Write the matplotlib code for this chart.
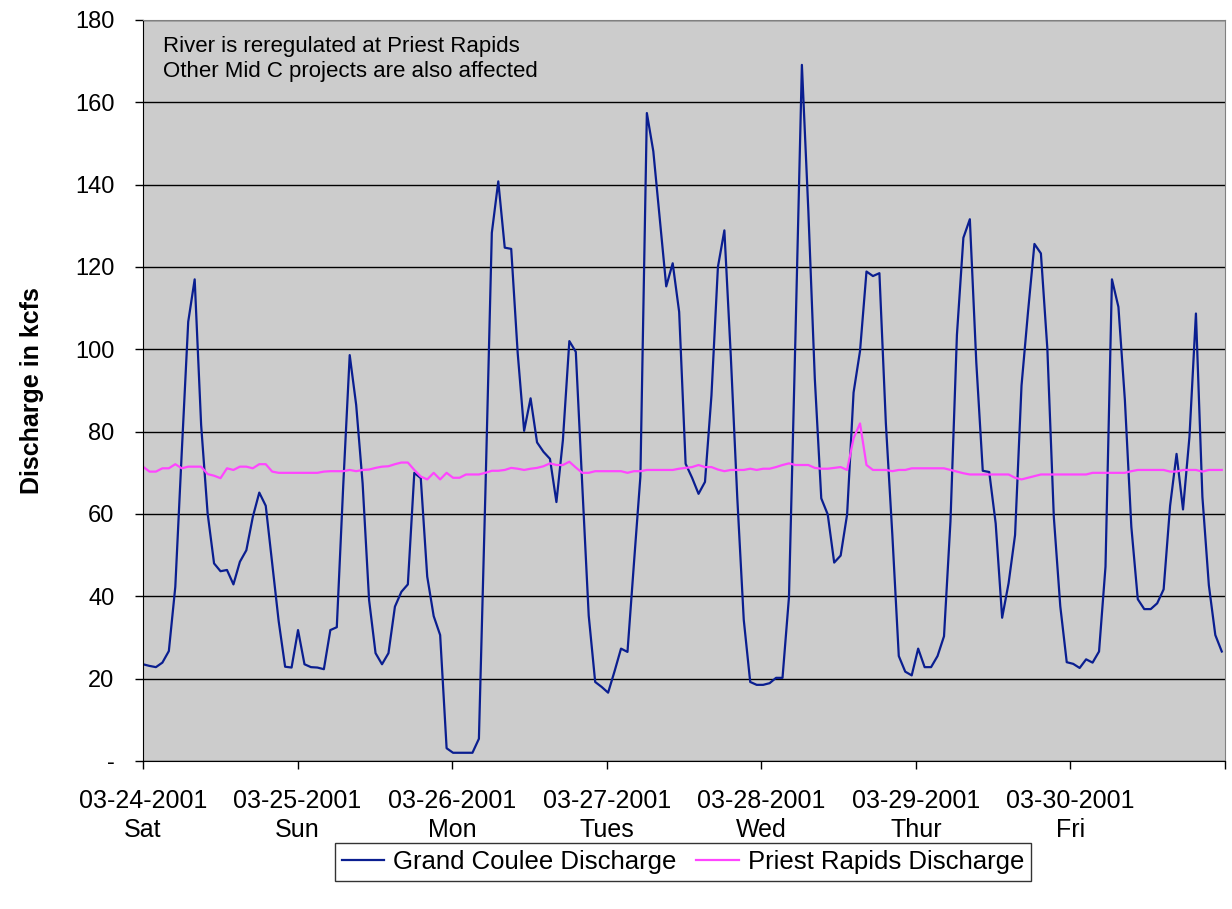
import numpy as np
import matplotlib.pyplot as plt

plt.rcParams['font.family'] = ['Liberation Sans', 'DejaVu Sans']

# hourly discharge, kcfs, starting 03-24-2001 00:00
grand_coulee = [
    23.5, 23.1, 22.8, 23.9, 26.7, 42.3, 75.0, 106.7, 117.0, 81.6, 60.2, 48.0,
    46.1, 46.4, 42.9, 48.4, 51.2, 59.3, 65.2, 62.0, 48.0, 34.0, 22.9, 22.7,
    31.8, 23.5, 22.8, 22.7, 22.3, 31.8, 32.5, 67.0, 98.6, 86.5, 67.4, 39.1,
    26.2, 23.5, 26.2, 37.5, 41.1, 42.9, 70.0, 68.7, 44.8, 35.2, 30.6, 3.1,
    2.0, 2.0, 2.0, 2.0, 5.4, 65.0, 128.3, 140.8, 124.7, 124.4, 99.2, 80.2,
    88.1, 77.4, 75.1, 73.4, 62.9, 77.9, 102.0, 99.4, 67.0, 35.3, 19.2, 18.0,
    16.6, 21.8, 27.3, 26.5, 48.0, 69.1, 157.4, 148.1, 131.7, 115.3, 120.9, 109.1,
    72.2, 68.8, 64.9, 67.8, 88.8, 120.0, 128.9, 98.2, 63.9, 34.3, 19.2, 18.5,
    18.5, 18.9, 20.2, 20.2, 39.8, 103.0, 169.1, 133.6, 92.9, 63.8, 59.9, 48.2,
    49.9, 59.9, 89.5, 99.6, 118.9, 117.8, 118.5, 82.0, 55.0, 25.5, 21.7, 20.8,
    27.3, 22.8, 22.8, 25.5, 30.3, 58.2, 103.5, 127.1, 131.6, 96.8, 70.5, 70.2,
    57.7, 34.8, 43.2, 54.9, 91.2, 109.0, 125.6, 123.3, 100.1, 59.3, 37.6, 24.0,
    23.6, 22.6, 24.7, 23.9, 26.6, 47.2, 117.0, 110.3, 87.7, 56.9, 39.3, 36.9,
    36.9, 38.3, 41.7, 62.0, 74.6, 61.1, 78.8, 108.7, 64.2, 42.7, 30.6, 26.6,
]
priest_rapids = [
    71.5, 70.3, 70.3, 71.1, 71.1, 72.1, 71.1, 71.5, 71.5, 71.5, 69.7, 69.3,
    68.7, 71.1, 70.7, 71.5, 71.5, 71.1, 72.1, 72.1, 70.3, 70.0, 70.0, 70.0,
    70.0, 70.0, 70.0, 70.0, 70.3, 70.4, 70.4, 70.4, 70.7, 70.4, 70.7, 70.8,
    71.2, 71.5, 71.6, 72.1, 72.5, 72.5, 70.7, 69.1, 68.4, 70.0, 68.4, 70.0,
    68.8, 68.8, 69.6, 69.6, 69.6, 70.0, 70.5, 70.5, 70.7, 71.2, 71.0, 70.7,
    71.0, 71.2, 71.6, 72.3, 71.9, 71.9, 72.7, 71.3, 70.0, 70.0, 70.4, 70.4,
    70.4, 70.4, 70.4, 70.0, 70.4, 70.4, 70.7, 70.7, 70.7, 70.7, 70.7, 71.0,
    71.2, 71.4, 71.9, 71.4, 71.4, 70.8, 70.4, 70.7, 70.7, 70.7, 71.0, 70.7,
    71.0, 71.0, 71.4, 71.9, 72.3, 71.9, 71.9, 71.9, 71.2, 71.0, 71.0, 71.2,
    71.4, 70.7, 78.4, 82.0, 71.9, 70.7, 70.7, 70.7, 70.4, 70.7, 70.7, 71.1,
    71.1, 71.1, 71.1, 71.1, 71.1, 70.7, 70.3, 69.9, 69.6, 69.6, 69.6, 69.6,
    69.6, 69.6, 69.6, 68.8, 68.4, 68.8, 69.2, 69.6, 69.6, 69.6, 69.6, 69.6,
    69.6, 69.6, 69.6, 70.0, 70.0, 70.0, 70.0, 70.0, 70.0, 70.4, 70.7, 70.7,
    70.7, 70.7, 70.7, 70.3, 70.3, 70.7, 70.7, 70.7, 70.3, 70.7, 70.7, 70.7,
]
day_labels = ['03-24-2001\nSat', '03-25-2001\nSun', '03-26-2001\nMon',
              '03-27-2001\nTues', '03-28-2001\nWed', '03-29-2001\nThur',
              '03-30-2001\nFri', '']
y_ticks = [0, 20, 40, 60, 80, 100, 120, 140, 160, 180]
y_labels = ['-', '20', '40', '60', '80', '100', '120', '140', '160', '180']

hours = np.arange(len(grand_coulee))
x_end = 167.5
day_pos = np.linspace(0, x_end, 8)

fig = plt.figure(figsize=(12.32, 9.09), dpi=100)
ax = fig.add_axes([143 / 1232, 1 - 761 / 909, 1082 / 1232, 741 / 909])
ax.set_facecolor('#CCCCCC')

ax.plot(hours, grand_coulee, color='#0A1E90', linewidth=1.6, label='Grand Coulee Discharge')
ax.plot(hours, priest_rapids, color='#FF45FF', linewidth=1.6, label='Priest Rapids Discharge')

ax.set_xlim(0, x_end)
ax.set_ylim(0, 180)
ax.set_yticks(y_ticks)
ax.set_yticklabels(y_labels, fontsize=17)
ax.set_xticks(day_pos)
ax.set_xticklabels(day_labels, fontsize=18, linespacing=1.3)
ax.grid(axis='y', color='black', linewidth=1.0)
ax.set_axisbelow(True)

ax.tick_params(axis='both', direction='out', length=6, width=1, colors='black')
ax.tick_params(axis='y', pad=14.5)
ax.tick_params(axis='x', pad=14)
for s in ['left', 'bottom']:
    ax.spines[s].set_color('black')
for s in ['top', 'right']:
    ax.spines[s].set_color('#808080')

ax.set_ylabel('Discharge in kcfs', fontsize=18, fontweight='bold', labelpad=22)

ax.text(0.0185, 0.978, 'River is reregulated at Priest Rapids\nOther Mid C projects are also affected',
        transform=ax.transAxes, fontsize=16, va='top', ha='left', linespacing=1.25)

leg = fig.legend(loc='center', bbox_to_anchor=(683 / 1232, 1 - 862 / 909), ncol=2,
                 fontsize=18.5, frameon=True, fancybox=False, edgecolor='black',
                 borderpad=0.28, borderaxespad=0, columnspacing=0.75,
                 handletextpad=0.35, handlelength=1.65)
leg.get_frame().set_linewidth(1.0)

fig.savefig('out.png', dpi=100)
